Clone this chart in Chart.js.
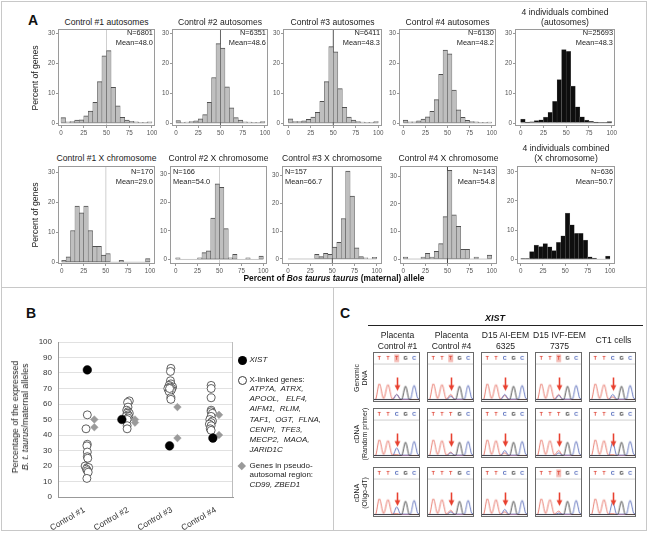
<!DOCTYPE html>
<html><head><meta charset="utf-8">
<script src="https://cdn.jsdelivr.net/npm/chart.js@4.4.1/dist/chart.umd.min.js"></script>
<style>
body{margin:0;width:651px;height:533px;background:#fff;position:relative;overflow:hidden;font-family:"Liberation Sans",Arial,Helvetica,sans-serif;color:#222}
.a{position:absolute;white-space:pre;line-height:1}
canvas{position:absolute}
.ln{position:absolute;background:#c8c8c8}
</style></head><body>
<script>
// ---------------- DATA ----------------
const binStarts = [0,5,10,15,20,25,30,35,40,45,50,55,60,65,70,75,80,85,90,95];
const histTicksX = [0,25,50,75,100];
const histTicksY = [0,10,20,30];

const autoTitles = ['Control #1 autosomes','Control #2 autosomes','Control #3 autosomes','Control #4 autosomes','4 individuals combined\n(autosomes)'];
const autoN = ['6801','6351','6411','6130','25693'];
const autoMean = ['48.0','48.6','48.3','48.2','48.3'];
const auto1 = [1.8,0.4,0.5,1.0,1.1,2.4,4.0,6.9,13.8,22.4,24.2,11.9,5.7,1.9,1.0,0.6,0.4,0.2,0.2,0.4];
const auto2 = [0.8,0.2,0.3,0.5,0.7,1.4,2.8,6.9,15.2,26.5,25.0,12.1,5.1,1.8,1.0,0.4,0.3,0.2,0.2,0.5];
const auto3 = [1.4,0.5,0.5,0.7,1.2,2.0,3.6,7.2,13.8,25.5,23.8,11.5,5.2,2.0,1.0,0.5,0.3,0.2,0.2,0.5];
const auto4 = [1.0,0.4,0.4,0.7,1.3,2.1,3.9,7.8,16.3,24.4,23.1,11.0,4.4,1.9,0.9,0.5,0.4,0.2,0.2,0.3];
const autoAll = [1.3,0.3,0.4,0.8,1.1,2.0,3.6,7.2,14.5,24.5,23.9,12.3,5.4,2.1,1.0,0.6,0.3,0.2,0.2,0.5];

const xTitles = ['Control #1 X chromosome','Control #2 X chromosome','Control #3 X chromosome','Control #4 X chromosome','4 individuals combined\n(X chromosome)'];
const xN = ['170','166','157','143','636'];
const xMean = ['29.0','54.0','66.7','54.8','50.7'];
const xchr1 = [0.6,1.8,10.6,18.8,16.5,18.8,10.6,5.3,5.3,2.4,2.9,0,0,0.6,0,0,0,0,0,1.2];
const xchr2 = [0.6,0,0,0,0,0.6,2.4,3.0,14.5,26.5,25.3,10.8,0.6,1.8,0,0,0.6,0,0,1.2];
const xchr3 = [0,0,0,0,0,0,1.7,0.9,2.0,1.7,4.3,6.0,14.5,31.5,22.5,4.0,0.9,0.4,0,0.6];
const xchr4 = [0.7,0,0,0,0.7,2.1,0.7,2.8,5.6,15.4,32.2,16.1,11.9,3.5,3.5,0,0.7,0,0,1.4];
const xchrAll = [0.3,0.3,2.7,4.9,4.4,5.4,4.3,3.0,5.8,8.1,15.9,11.8,8.9,8.9,6.6,0.9,0.4,0,0,1.1];

// Panel B
const bCategories = ['Control #1','Control #2','Control #3','Control #4'];
const xistPos = [1.07,1.86,2.95,3.94];
const xistVals = [82,50,33,38];
const parPos = [1.23,1.23,2.16,2.16,3.13,3.13,4.08,4.08];
const parVals = [50,45,50,48,58,38,53,40];
const xlinkPos1 = [1.07,1.04,1.07,1.06,1.07,1.07,1.08,1.02,1.07,1.10,1.05,1.07,1.09,1.06];
const xlinkVals1 = [53,44,34,33,29,26,25,20,19,19,18,17,16,12];
const xlinkPos2 = [2.03,1.99,2.00,1.97,2.00,2.03,1.98,2.00,1.96,2.02,2.00,1.98,1.98,1.98];
const xlinkVals2 = [62,61,58,56,55,54,54,53,52,52,51,50,46,44];
const xlinkPos3 = [2.98,2.97,2.97,2.98,2.94,3.02,2.96,2.91,3.00,2.99,2.94,2.98,2.98,2.95];
const xlinkVals3 = [83,81,75,73,72,71,71,70,70,69,68,64,63,70];
const xlinkPos4 = [3.90,3.90,3.90,3.90,3.90,3.93,3.90,3.87,3.93,3.90,3.86,3.90,3.88,3.90];
const xlinkVals4 = [72,70,64,56,55,54,52,50,49,48,47,46,44,43];
const bYTicks = [0,10,20,30,40,50,60,70,80,90,100];

// Panel C
const chromCols = ['Placenta\nControl #1','Placenta\nControl #4','D15 AI-EEM\n6325','D15 IVF-EEM\n7375','CT1 cells'];
const chromRows = ['Genomic\nDNA','cDNA\n(Random primer)','cDNA\n(Oligo-dT)'];
const flankPeaks = [0.95,0.9,0.8,0.85];           // T, T, G, C heights
const flankCalls = ['T','T','G','C'];
const siteT = [[0.3,0.3,0.25,0.3,0.15],[0.05,0.2,0.15,0.3,0.05],[0.05,0.25,0.15,0.2,0.05]];
const siteC = [[0.3,0.2,0.3,0.25,0.3],[0.45,0.15,0.3,0.15,0.8],[0.45,0.15,0.3,0.08,0.75]];
const siteCall = [['T','T','C','T','C'],['C','T','C','T','C'],['C','T','C','T','C']];
const siteHL = [[1,1,0,1,0],[0,0,0,0,0],[0,0,0,1,0]];

// ---------------- HELPERS ----------------
const FAM = '"Liberation Sans", Arial, Helvetica, sans-serif';
function txt(html, x, y, o = {}) {
  const d = document.createElement('div');
  d.className = 'a';
  d.innerHTML = html;
  d.style.left = x + 'px'; d.style.top = y + 'px';
  d.style.fontSize = (o.size || 8) + 'px';
  if (o.bold) d.style.fontWeight = 'bold';
  if (o.italic) d.style.fontStyle = 'italic';
  d.style.color = o.color || '#222';
  if (o.lh) d.style.lineHeight = o.lh + 'px';
  const al = o.align || 'center';
  d.style.textAlign = al;
  const ax = al === 'left' ? '0' : al === 'right' ? '-100%' : '-50%';
  d.style.transform = `translate(${ax},-50%)` + (o.rot ? ` rotate(${o.rot}deg)` : '');
  document.body.appendChild(d);
  return d;
}
function line(x, y, w, h, c) {
  const d = document.createElement('div');
  d.className = 'ln';
  Object.assign(d.style, {left: x + 'px', top: y + 'px', width: w + 'px', height: h + 'px'});
  if (c) d.style.background = c;
  document.body.appendChild(d);
}
function mkCanvas(x, y, w, h) {
  const c = document.createElement('canvas');
  c.width = w; c.height = h;
  c.style.left = x + 'px'; c.style.top = y + 'px';
  c.style.width = w + 'px'; c.style.height = h + 'px';
  document.body.appendChild(c);
  return c;
}
const framePlugin = {
  id: 'frame',
  afterDatasetsDraw(chart, args, opts) {
    if (!opts || !opts.color) return;
    const a = chart.chartArea, ctx = chart.ctx;
    ctx.save();
    ctx.strokeStyle = opts.color; ctx.lineWidth = 1;
    if (opts.rightOnly) {
      ctx.beginPath(); ctx.moveTo(Math.round(a.right) - 0.5, a.top); ctx.lineTo(Math.round(a.right) - 0.5, a.bottom); ctx.stroke();
    } else {
      ctx.strokeRect(Math.round(a.left) + 0.5, Math.round(a.top) + 0.5, Math.round(a.right - a.left) - 1, Math.round(a.bottom - a.top) - 1);
    }
    ctx.restore();
  }
};

// ---------------- FRAME ----------------
line(1, 1, 646, 1); line(1, 530, 646, 1); line(1, 1, 1, 530); line(646, 1, 1, 530);
line(1, 287, 646, 1); line(333, 287, 1, 244);

txt('A', 33, 20, {size: 14, bold: true, color: '#111'});
txt('B', 31, 313, {size: 14, bold: true, color: '#111'});
txt('C', 345, 313, {size: 14, bold: true, color: '#111'});

// ---------------- PANEL A ----------------
function hist(box, t, b, values, o) {
  const [l, r] = box;
  const cl = l - 16, ct = t - 2, cw = r - l + 16 + 7, ch = b - t + 2 + 11;
  const cv = mkCanvas(cl, ct, cw, ch);
  const ds = [
    {type: 'bar', data: values.map((v, i) => ({x: binStarts[i] + 2.5, y: v})),
     backgroundColor: o.fill, borderColor: o.edge, borderWidth: o.bw, borderSkipped: false,
     barPercentage: 1, categoryPercentage: 1, order: 1},
    {type: 'line', data: [{x: 0, y: 0}, {x: 100, y: 0}], borderColor: '#c8c8c8', borderWidth: 1,
     pointRadius: 0, order: 3}
  ];
  if (o.line) ds.push({type: 'line', data: [{x: 50, y: -5}, {x: 50, y: 60}], borderColor: o.line,
    borderWidth: 1, pointRadius: 0, order: 2});
  const tickFont = {size: 6.3, family: FAM};
  new Chart(cv, {
    type: 'bar',
    data: {datasets: ds},
    options: {
      responsive: false, animation: false, devicePixelRatio: 1, events: [],
      layout: {padding: {top: 2, right: 7, left: 0, bottom: 0}},
      plugins: {legend: {display: false}, tooltip: {enabled: false}, frame: {color: '#9a9a9a'}},
      scales: {
        x: {type: 'linear', min: o.xr[0], max: o.xr[1], offset: false, bounds: 'data',
            afterBuildTicks: s => { s.ticks = histTicksX.map(v => ({value: v})); },
            afterFit: s => { s.height = 11; s.paddingLeft = 0; s.paddingRight = 0; },
            grid: {display: true, drawOnChartArea: false, drawTicks: true, tickLength: 2, color: '#999', offset: false},
            border: {display: false},
            ticks: {font: tickFont, color: '#555', padding: 1, maxRotation: 0, autoSkip: false}},
        y: {type: 'linear', min: o.yr[0], max: o.yr[1], bounds: 'data',
            afterBuildTicks: s => { s.ticks = histTicksY.map(v => ({value: v})); },
            afterFit: s => { s.width = 16; s.paddingTop = 0; s.paddingBottom = 0; },
            grid: {display: true, drawOnChartArea: false, drawTicks: true, tickLength: 2, color: '#999'},
            border: {display: false},
            ticks: {font: tickFont, color: '#555', padding: 1}}
      }
    },
    plugins: [framePlugin]
  });
  // title
  const cx = (l + r) / 2;
  const tl = o.title.split('\n');
  if (tl.length === 1) txt(tl[0], cx, o.titleY, {size: 8.6});
  else { txt(tl[0], cx, o.titleY - 10, {size: 8.6}); txt(tl[1], cx, o.titleY, {size: 8.6}); }
  const ax = o.nAlign === 'left' ? l + 3 : r - 2;
  txt('N=' + o.n, ax, o.nY, {size: 7.4, align: o.nAlign});
  txt('Mean=' + o.mean, ax, o.nY + 9.5, {size: 7.4, align: o.nAlign});
}

const topBoxes = [[58,155],[172,268],[283,382],[399,496],[515,615]];
const botBoxes = [[58,155],[170,267],[282,382],[400,497],[517,615]];
const topXR = [[-3.3,103.3],[-4.5,103.4],[-5.9,104.1],[-4.9,104.9],[-6.2,103.6]];
const botXR = [[-4.2,105.7],[-6.5,104.2],[-6.8,106],[-3.7,106],[-4.1,105.6]];
const botYR = [[-0.6,32.2],[-1.6,32.8],[-1.8,33.3],[-1.8,33.8],[-1.6,32]];
const topLine = ['#cfcfcf','#666','#555',null,null];
const botLine = ['#cfcfcf','#cfcfcf','#555','#444',null];
const botAlign = ['right','left','left','right','right'];
const autoSets = [auto1, auto2, auto3, auto4, autoAll];
const xSets = [xchr1, xchr2, xchr3, xchr4, xchrAll];
const grayBW = {top: 1, left: 0.5, right: 0.5, bottom: 0.5};
const blackBW = {top: 0.5, left: 0.35, right: 0.35, bottom: 0};

autoSets.forEach((vals, i) => {
  const comb = i === 4;
  hist(topBoxes[i], 29, 126, vals, {
    xr: topXR[i], yr: [-1, 31.4], fill: comb ? '#0e0e0e' : '#bfbfbf', edge: comb ? '#8a8a8a' : '#505050',
    bw: comb ? blackBW : grayBW, line: topLine[i], title: autoTitles[i], titleY: 22,
    n: autoN[i], mean: autoMean[i], nAlign: 'right', nY: 33
  });
});
xSets.forEach((vals, i) => {
  const comb = i === 4;
  hist(botBoxes[i], 166, 264, vals, {
    xr: botXR[i], yr: botYR[i], fill: comb ? '#0e0e0e' : '#bfbfbf', edge: comb ? '#8a8a8a' : '#505050',
    bw: comb ? blackBW : grayBW, line: botLine[i], title: xTitles[i], titleY: 158,
    n: xN[i], mean: xMean[i], nAlign: botAlign[i], nY: 172
  });
});
txt('Percent of genes', 35, 78, {size: 8.6, rot: -90});
txt('Percent of genes', 35, 215, {size: 8.6, rot: -90});
txt('Percent of <i>Bos taurus taurus</i> (maternal) allele', 334, 278, {size: 8.4, bold: true, color: '#111'});

// ---------------- PANEL B ----------------
(function () {
  const cl = 24, ct = 336, cw = 216, ch = 194;
  const cv = mkCanvas(cl, ct, cw, ch);
  const pts = (xs, ys) => ys.map((v, i) => ({x: xs[i], y: v}));
  const xl = pts(xlinkPos1, xlinkVals1).concat(pts(xlinkPos2, xlinkVals2), pts(xlinkPos3, xlinkVals3), pts(xlinkPos4, xlinkVals4));
  const f = {size: 8, family: FAM};
  new Chart(cv, {
    type: 'scatter',
    data: {datasets: [
      {data: pts(xistPos, xistVals), pointStyle: 'circle', pointRadius: 4.3, backgroundColor: '#000', borderColor: '#000', borderWidth: 0.5},
      {data: pts(parPos, parVals), pointStyle: 'rectRot', pointRadius: 3.8, backgroundColor: '#9a9a9a', borderColor: '#9a9a9a', borderWidth: 0.5},
      {data: xl, pointStyle: 'circle', pointRadius: 4, backgroundColor: '#fff', borderColor: '#3a3a3a', borderWidth: 0.8}
    ]},
    options: {
      responsive: false, animation: false, devicePixelRatio: 1, events: [],
      layout: {padding: {top: 6, right: 7, left: 0, bottom: 0}},
      plugins: {legend: {display: false}, tooltip: {enabled: false}, frame: {color: '#bdbdbd', rightOnly: true}},
      scales: {
        x: {type: 'linear', min: 0.4, max: 4.4, bounds: 'data',
            afterBuildTicks: s => { s.ticks = [1,2,3,4].map(v => ({value: v})); },
            afterFit: s => { s.height = 33; s.paddingLeft = 0; s.paddingRight = 0; },
            grid: {display: false}, border: {display: true, color: '#999'},
            ticks: {font: {size: 8.4, family: FAM}, color: '#333', minRotation: 30, maxRotation: 30, padding: 0, autoSkip: false,
                    callback: v => bCategories[Math.round(v) - 1]}},
        y: {type: 'linear', min: 0, max: 100, bounds: 'data',
            afterBuildTicks: s => { s.ticks = bYTicks.map(v => ({value: v})); },
            afterFit: s => { s.width = 34; s.paddingTop = 0; s.paddingBottom = 0; },
            grid: {color: '#d9d9d9', lineWidth: 0.8, drawTicks: false}, border: {display: true, color: '#999'},
            ticks: {font: f, color: '#333', padding: 6}}
      }
    },
    plugins: [framePlugin]
  });
})();
txt('Percentage of the expressed\n<i>B. t. taurus</i>/maternal alleles', 20, 417, {size: 8.8, lh: 10, rot: -90});

// legend B
(function () {
  const mk = (x, y, css) => { const d = document.createElement('div'); d.style.position = 'absolute'; Object.assign(d.style, css);
    d.style.left = x + 'px'; d.style.top = y + 'px'; document.body.appendChild(d); };
  mk(237.5, 355.5, {width: '9px', height: '9px', borderRadius: '50%', background: '#000'});
  mk(237.5, 375.5, {width: '7.4px', height: '7.4px', borderRadius: '50%', border: '0.8px solid #3a3a3a', background: '#fff'});
  mk(239, 463, {width: '5.5px', height: '5.5px', background: '#9a9a9a', transform: 'rotate(45deg)'});
  const lx = 249.5;
  txt('XIST', lx, 360, {size: 8, italic: true, align: 'left'});
  txt('X-linked genes:', lx, 379.5, {size: 8, align: 'left'});
  const genes = ['ATP7A,  ATRX,', 'APOOL,   ELF4,', 'AIFM1,  RLIM,', 'TAF1,  OGT,  FLNA,', 'CENPI,  TFE3,', 'MECP2,  MAOA,', 'JARID1C'];
  genes.forEach((g, i) => txt(g, lx, 389 + i * 10.2, {size: 8, italic: true, align: 'left'}));
  txt('Genes in pseudo-', lx, 466, {size: 8, align: 'left'});
  txt('autosomal region:', lx, 475.3, {size: 8, align: 'left'});
  txt('CD99, ZBED1', lx, 484.6, {size: 8, italic: true, align: 'left'});
})();

// ---------------- PANEL C ----------------
txt('XIST', 495, 318, {size: 9, bold: true, italic: true, color: '#111'});
line(368, 325, 275, 1, '#222');
const colX = [373, 427, 481, 535, 589];
const rowY = [352, 408, 467];
chromCols.forEach((c, j) => {
  const cx = colX[j] + 24.5;
  const p = c.split('\n');
  if (p.length === 1) txt(p[0], cx, 340, {size: 8.6});
  else { txt(p[0], cx, 335, {size: 8.6}); txt(p[1], cx, 345.5, {size: 8.6}); }
});
chromRows.forEach((r, i) => {
  txt(r, 361, rowY[i] + 26, {size: 7, lh: 8, rot: -90});
});
const baseColor = {T: '#e0483a', C: '#3d57b3', G: '#222'};
const chromPlugin = {
  id: 'chrom',
  afterDatasetsDraw(chart, args, o) {
    const ctx = chart.ctx, xs = chart.scales.x;
    ctx.save();
    ctx.strokeStyle = '#cfcfcf'; ctx.lineWidth = 1;
    ctx.beginPath(); ctx.moveTo(0, 11.5); ctx.lineTo(chart.width, 11.5); ctx.stroke();
    ctx.font = 'bold 5.5px ' + FAM; ctx.textAlign = 'center'; ctx.textBaseline = 'middle';
    o.letters.forEach((L, k) => {
      const px = xs.getPixelForValue(k + 1);
      if (o.hl && k === 2) { ctx.fillStyle = '#f3b9b3'; ctx.fillRect(px - 2.5, 1.5, 5, 8); }
      ctx.fillStyle = baseColor[L];
      ctx.fillText(L, px, 5.5);
    });
    const ax = Math.round(xs.getPixelForValue(3)) + 0.5;
    ctx.strokeStyle = '#e8402f'; ctx.fillStyle = '#e8402f'; ctx.lineWidth = 1.6;
    ctx.beginPath(); ctx.moveTo(ax, 25.5); ctx.lineTo(ax, 35); ctx.stroke();
    ctx.beginPath(); ctx.moveTo(ax - 3, 33.5); ctx.lineTo(ax + 3, 33.5); ctx.lineTo(ax, 39.5); ctx.closePath(); ctx.fill();
    ctx.restore();
  }
};
rowY.forEach((y, i) => {
  colX.forEach((x, j) => {
    const cv = mkCanvas(x, y, 47, 50);
    cv.style.border = '1px solid #6a6a6a';
    const tS = siteT[i][j], cS = siteC[i][j];
    const red = [{x:0.4,y:0},{x:0.55,y:0},{x:1,y:flankPeaks[0]},{x:1.5,y:0.06},{x:2,y:flankPeaks[1]},{x:2.5,y:0.03},{x:3,y:tS},{x:3.45,y:0},{x:5.6,y:0}];
    const blue = [{x:0.4,y:0},{x:2.55,y:0},{x:3,y:cS},{x:3.45,y:0.02},{x:4.55,y:0.02},{x:5,y:flankPeaks[3]},{x:5.45,y:0.05},{x:5.6,y:0.05}];
    const black = [{x:0.4,y:0},{x:3.55,y:0},{x:4,y:flankPeaks[2]},{x:4.45,y:0},{x:5.6,y:0}];
    const L = [flankCalls[0], flankCalls[1], siteCall[i][j], flankCalls[2], flankCalls[3]];
    const mkDs = (d, c) => ({data: d, borderColor: c, borderWidth: 0.9, pointRadius: 0, fill: false, cubicInterpolationMode: 'monotone'});
    new Chart(cv, {
      type: 'line',
      data: {datasets: [mkDs(black, '#333'), mkDs(blue, '#5467b8'), mkDs(red, '#e4685a')]},
      options: {
        responsive: false, animation: false, devicePixelRatio: 1, events: [],
        layout: {padding: {top: 12, bottom: 1, left: 0, right: 0}},
        plugins: {legend: {display: false}, tooltip: {enabled: false}, chrom: {letters: L, hl: !!siteHL[i][j]}},
        scales: {
          x: {type: 'linear', min: 0.4, max: 5.55, display: false},
          y: {type: 'linear', min: -0.03, max: 2.1, display: false}
        }
      },
      plugins: [chromPlugin]
    });
  });
});
</script>
</body></html>
